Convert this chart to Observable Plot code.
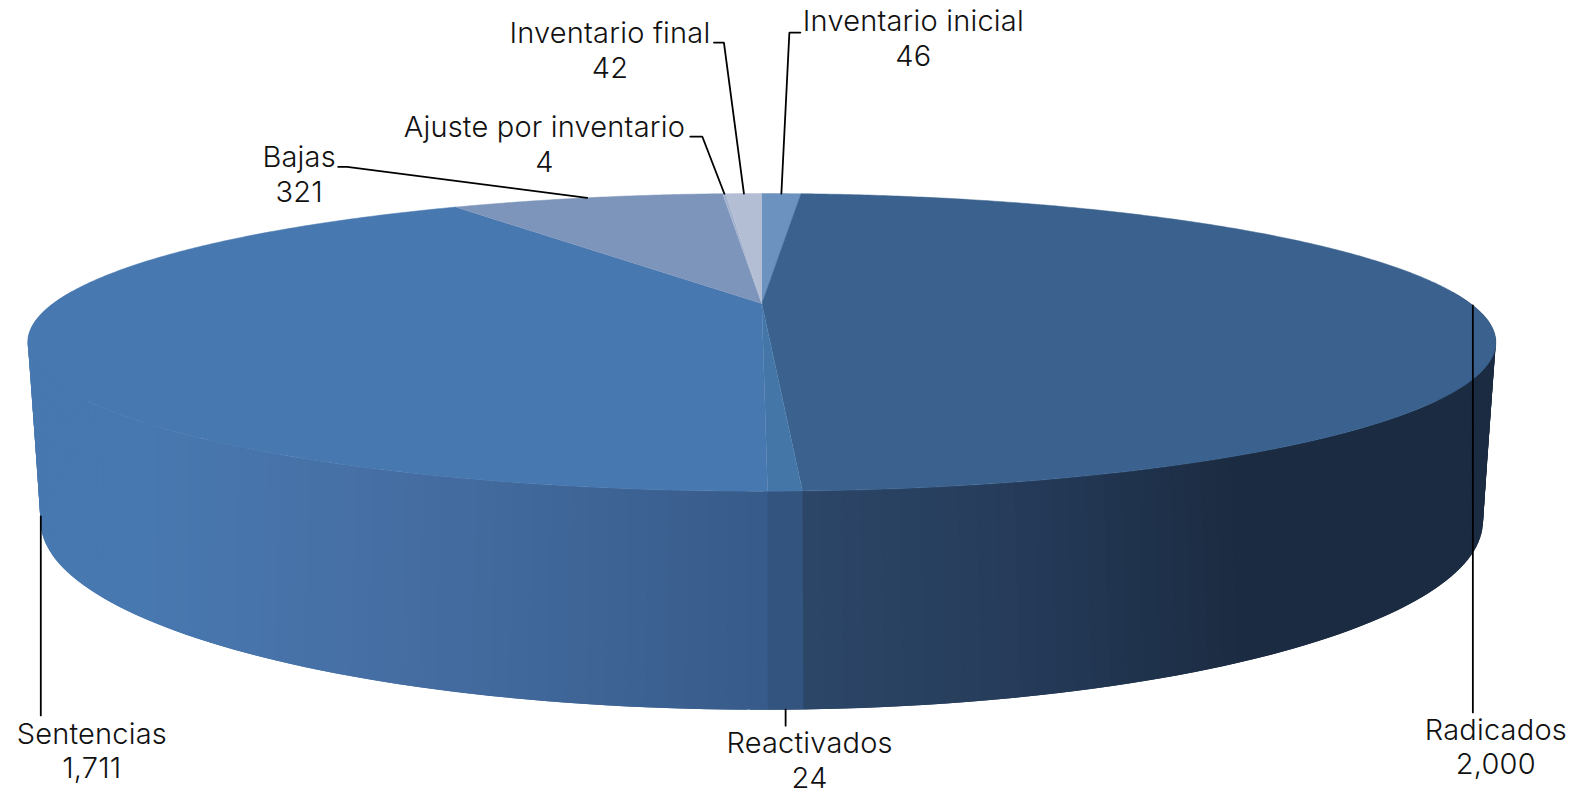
<!DOCTYPE html>
<html>
<head>
<meta charset="utf-8">
<script src="https://cdn.jsdelivr.net/npm/d3@7"></script>
<script src="https://cdn.jsdelivr.net/npm/@observablehq/plot@0.6"></script>
<style>
html,body{margin:0;padding:0;background:#fff;overflow:hidden}
svg{display:block}
</style>
</head>
<body>
<div id="chart"></div>
<script>
// ---- data ----
const categories = ["Inventario inicial","Radicados","Reactivados","Sentencias","Bajas","Ajuste por inventario","Inventario final"];
const values = [46,2000,24,1711,321,4,42];

// ---- styles ----
const topColors = ["#6c92bf","#3b628f","#4576a8","#4878b0","#7d94bb","#a3b2cf","#b3bed5"];
const sideStops = [
  {x:[27,150,420,767],c:["#4878b0","#4878b0","#456da2","#375b8a"]},
  {x:[802,1000,1240,1495],c:["#2c4768","#263c5b","#1b2b41","#1b2b41"]},
  {x:[767,802],c:["#33547f","#33547f"]}
];
const sideKey = {"Sentencias":0,"Radicados":1,"Reactivados":2};

// ---- layout: the perspective camera of the pie, and label placement ----
const topDisc = {cx:761.3,cy:303,a:708.6,b:138.7,p:0.261};
const baseDisc = {cx:761.3,cy:464,a:688,b:171.7,p:0.30};
// for each category: rim used by the leader, elbow offset from anchor, horizontal run to elbow, label offset from anchor
const leaderLayout = {
  "Inventario inicial":{rim:"top",elbow:[8,-161],run:11,label:[132,-128]},
  "Radicados":{rim:"top",elbow:[0,407],run:0,label:[23,469]},
  "Reactivados":{rim:"base",elbow:[0,16],run:0,label:[24,78]},
  "Sentencias":{rim:"base",elbow:[0,199],run:0,label:[51,262]},
  "Bajas":{rim:"top",elbow:[-240,-31],run:-9,label:[-288,4]},
  "Ajuste por inventario":{rim:"top",elbow:[-22,-57],run:-12,label:[-180,-22]},
  "Inventario final":{rim:"top",elbow:[-20,-151],run:-10,label:[-134,-116]}
};

const project = (d,t) => {
  const u = Math.sin(t), v = Math.cos(t), w = 1 + d.p*v;
  return {x:d.cx + d.a*u/w, y:d.cy - d.b*v/w};
};

const arcs = d3.pie().sort(null).value(d=>d)(values);
const rad = d=>d*Math.PI/180;

// top face polygons
const topPts = [];
arcs.forEach((a,i)=>{
  const n = Math.max(2,Math.ceil((a.endAngle-a.startAngle)/rad(0.5)));
  topPts.push({x:topDisc.cx,y:topDisc.cy,k:categories[i],c:topColors[i]});
  for(let j=0;j<=n;j++){
    const p = project(topDisc,a.startAngle+(a.endAngle-a.startAngle)*j/n);
    topPts.push({...p,k:categories[i],c:topColors[i]});
  }
});

// side wall strips: each one runs under the next, so that no seam shows
const sidePts = [];
arcs.forEach((a,i)=>{
  const s = sideStops[sideKey[categories[i]]];
  if(!s) return;
  const t0 = Math.max(a.startAngle,rad(85)), t1 = Math.min(a.endAngle,rad(275));
  const n = Math.max(1,Math.ceil((t1-t0)/rad(1.2)));
  const col = d3.scaleLinear().domain(s.x).range(s.c).clamp(true);
  const step = (t1-t0)/n;
  for(let j=0;j<n;j++){
    const ta = t0+step*j, tb = t0+step*(j+1), tc = Math.min(rad(275),tb+step);
    const A=project(topDisc,ta),B=project(topDisc,tc),C=project(baseDisc,tc),D=project(baseDisc,ta);
    const mid = project(topDisc,(ta+tb)/2);
    const c = col(mid.x), k = categories[i]+j;
    [A,B,C,D,A].forEach(p=>sidePts.push({x:p.x,y:p.y,k,c}));
  }
});

// leaders + labels
const leaderPts = [], labels = [];
arcs.forEach((a,i)=>{
  const name = categories[i], L = leaderLayout[name];
  const p = project(L.rim==="top"?topDisc:baseDisc,(a.startAngle+a.endAngle)/2);
  const e = {x:p.x+L.elbow[0],y:p.y+L.elbow[1]};
  leaderPts.push({x:p.x,y:p.y,k:name},{x:e.x,y:e.y,k:name});
  if(L.run) leaderPts.push({x:e.x+L.run,y:e.y,k:name});
  labels.push({x:p.x+L.label[0],y:p.y+L.label[1],text:name+"\n"+d3.format(",")(values[i])});
});

const chart = Plot.plot({
  width:1581,height:790,margin:0,
  style:{background:"#fff",fontFamily:"Inter, Lato, sans-serif",letterSpacing:"0.2px"},
  x:{domain:[0,1581],range:[0,1581],axis:null},
  y:{domain:[0,790],range:[0,790],axis:null},
  color:{type:"identity"},
  marks:[
    Plot.line(sidePts,{x:"x",y:"y",z:"k",fill:"c",stroke:"none",curve:"linear"}),
    Plot.line(topPts,{x:"x",y:"y",z:"k",fill:"c",stroke:"c",strokeWidth:0.5,curve:"linear"}),
    Plot.line(leaderPts,{x:"x",y:"y",z:"k",stroke:"#000",strokeWidth:1.8,curve:"linear",strokeLinejoin:"miter"}),
    Plot.text(labels,{x:"x",y:"y",text:"text",fill:"#111",fontSize:29,fontWeight:300,lineAnchor:"bottom",textAnchor:"middle",lineHeight:1.19})
  ]
});
document.getElementById("chart").appendChild(chart);
</script>
</body>
</html>
